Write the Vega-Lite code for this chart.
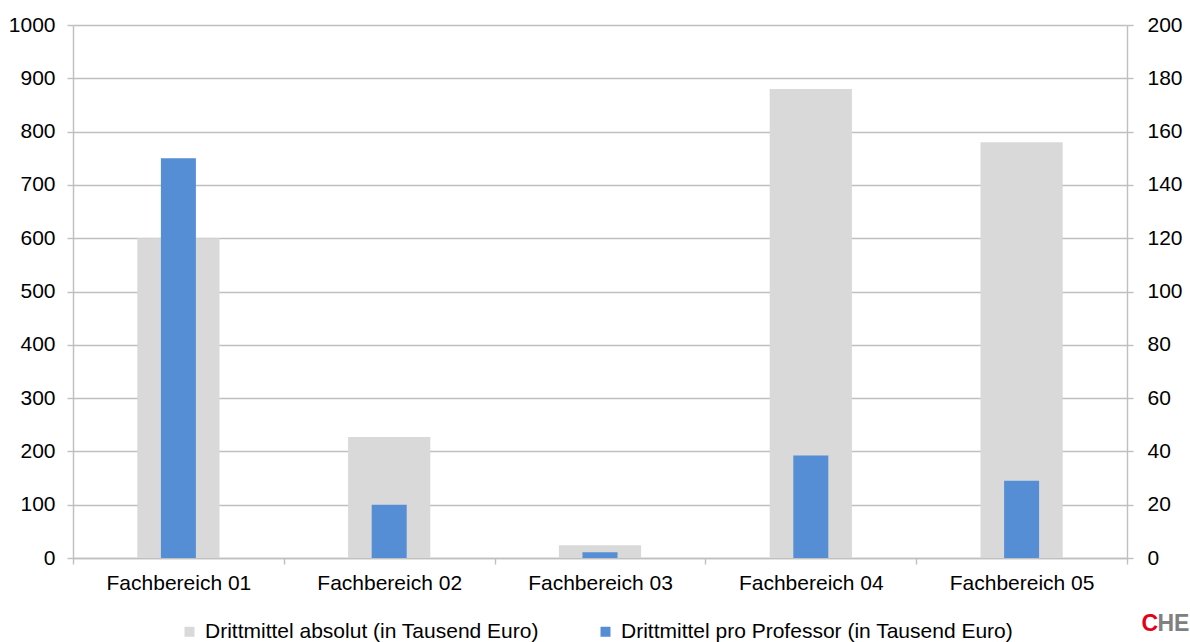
{
  "$schema": "https://vega.github.io/schema/vega-lite/v6.json",
  "width": 1054,
  "height": 533,
  "autosize": {"type": "none"},
  "padding": {"left": 73, "top": 25, "right": 63, "bottom": 84},
  "background": "white",
  "config": {
    "view": {"stroke": null},
    "font": "Liberation Sans",
    "axis": {"labelFont": "Liberation Sans", "labelFontSize": 21, "labelColor": "#000000", "domainColor": "#bfbfbf", "tickColor": "#bfbfbf", "domainWidth": 1.4, "tickWidth": 1.4}
  },
  "datasets": {
    "abs": [
      {"Fachbereich": "Fachbereich 01", "Reihe": "Drittmittel absolut (in Tausend Euro)", "Wert": 600},
      {"Fachbereich": "Fachbereich 02", "Reihe": "Drittmittel absolut (in Tausend Euro)", "Wert": 227},
      {"Fachbereich": "Fachbereich 03", "Reihe": "Drittmittel absolut (in Tausend Euro)", "Wert": 24},
      {"Fachbereich": "Fachbereich 04", "Reihe": "Drittmittel absolut (in Tausend Euro)", "Wert": 880},
      {"Fachbereich": "Fachbereich 05", "Reihe": "Drittmittel absolut (in Tausend Euro)", "Wert": 780}
    ],
    "pro": [
      {"Fachbereich": "Fachbereich 01", "Reihe": "Drittmittel pro Professor (in Tausend Euro)", "Wert": 150},
      {"Fachbereich": "Fachbereich 02", "Reihe": "Drittmittel pro Professor (in Tausend Euro)", "Wert": 20},
      {"Fachbereich": "Fachbereich 03", "Reihe": "Drittmittel pro Professor (in Tausend Euro)", "Wert": 2.2},
      {"Fachbereich": "Fachbereich 04", "Reihe": "Drittmittel pro Professor (in Tausend Euro)", "Wert": 38.5},
      {"Fachbereich": "Fachbereich 05", "Reihe": "Drittmittel pro Professor (in Tausend Euro)", "Wert": 29}
    ]
  },
  "encoding": {
    "x": {
      "field": "Fachbereich",
      "type": "nominal",
      "scale": {"paddingInner": 0, "paddingOuter": 0},
      "axis": {
        "title": "C",
        "titleColor": "#e2001a",
        "titleFont": "Liberation Sans",
        "titleFontSize": 23,
        "titleFontWeight": "bold",
        "titleAlign": "left",
        "titleBaseline": "alphabetic",
        "titleX": 1068,
        "titleY": 72,
        "labelAngle": 0,
        "tickBand": "extent",
        "tickSize": 6,
        "labelPadding": 8
      }
    },
    "color": {
      "field": "Reihe",
      "type": "nominal",
      "scale": {
        "domain": ["Drittmittel absolut (in Tausend Euro)", "Drittmittel pro Professor (in Tausend Euro)"],
        "range": ["#d9d9d9", "#558ed5"]
      },
      "legend": {
        "title": null,
        "orient": "none",
        "legendX": 106,
        "legendY": 596,
        "padding": 0,
        "direction": "horizontal",
        "symbolType": "square",
        "symbolSize": 100,
        "symbolStrokeWidth": 0,
        "labelFontSize": 21,
        "labelFont": "Liberation Sans",
        "labelColor": "#000000",
        "labelLimit": 0,
        "labelOffset": 5,
        "columnPadding": 56
      }
    }
  },
  "layer": [
    {
      "data": {"name": "abs"},
      "mark": {"type": "bar", "width": {"band": 0.39}},
      "encoding": {
        "y": {
          "field": "Wert",
          "type": "quantitative",
          "scale": {"domain": [0, 1000], "nice": false},
          "axis": {"title": null, "orient": "left", "format": "d", "values": [0, 100, 200, 300, 400, 500, 600, 700, 800, 900, 1000], "grid": true, "gridColor": "#bfbfbf", "gridWidth": 1.4, "tickSize": 6, "labelPadding": 12}
        }
      }
    },
    {
      "data": {"name": "pro"},
      "mark": {"type": "bar", "width": {"band": 0.166}},
      "encoding": {
        "y": {
          "field": "Wert",
          "type": "quantitative",
          "scale": {"domain": [0, 200], "nice": false},
          "axis": {
            "title": "HE",
            "titleColor": "#808080",
            "titleFont": "Liberation Sans",
            "titleFontSize": 23,
            "titleFontWeight": "bold",
            "titleAngle": 0,
            "titleAlign": "left",
            "titleBaseline": "alphabetic",
            "titleX": 30,
            "titleY": 605,
            "orient": "right",
            "format": "d",
            "values": [0, 20, 40, 60, 80, 100, 120, 140, 160, 180, 200],
            "grid": false,
            "tickSize": 6,
            "labelPadding": 14
          }
        }
      }
    }
  ],
  "resolve": {"scale": {"y": "independent"}}
}
